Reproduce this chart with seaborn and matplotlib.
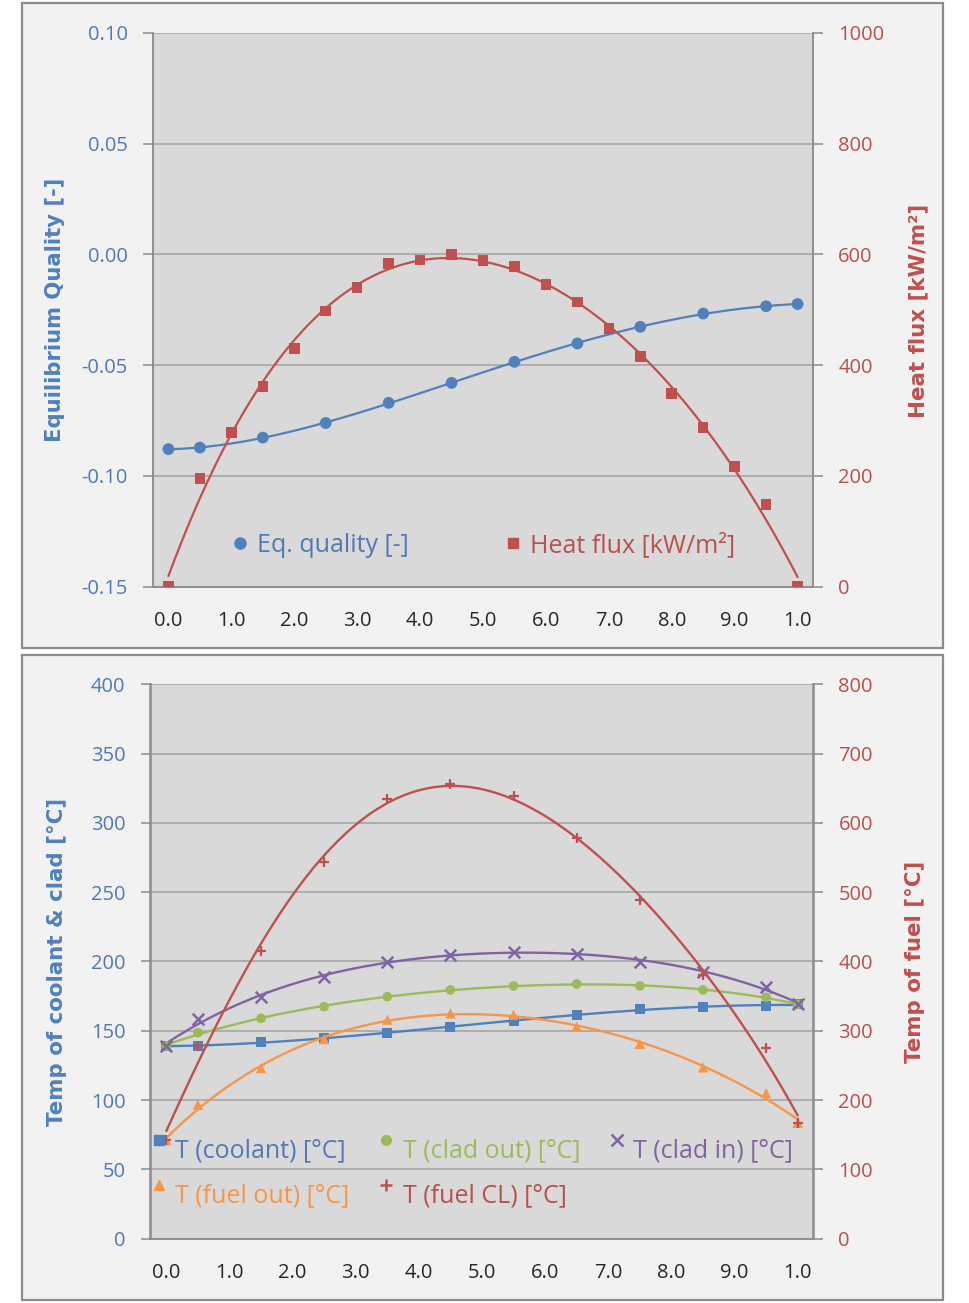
import numpy as np
import pandas as pd
import seaborn as sns
import matplotlib
matplotlib.use("Agg")
import matplotlib.pyplot as plt
from matplotlib.lines import Line2D
from matplotlib.patches import Rectangle
from matplotlib.legend_handler import HandlerLine2D

# ---------------- data ----------------
x_nodes = [0.0, 0.5, 1.5, 2.5, 3.5, 4.5, 5.5, 6.5, 7.5, 8.5, 9.5, 10.0]
eq_quality = [-0.0879, -0.0872, -0.0827, -0.0761, -0.0670, -0.0580,
              -0.0485, -0.0402, -0.0327, -0.0267, -0.0234, -0.0224]
x_flux = [0.0, 0.5, 1.0, 1.5, 2.0, 2.5, 3.0, 3.5, 4.0, 4.5, 5.0,
          5.5, 6.0, 6.5, 7.0, 7.5, 8.0, 8.5, 9.0, 9.5, 10.0]
heat_flux = [0, 195, 278, 361, 430, 498, 540, 584, 590, 600, 589,
             578, 546, 514, 466, 416, 349, 287, 217, 148, 0]
t_coolant = [139, 139, 141.6, 144.5, 148.6, 152.9, 157.0, 161.3, 165.4, 167.3, 167.8, 169]
t_clad_out = [139, 148.6, 158.9, 167.3, 174.5, 179.4, 182.3, 183.7, 182.3, 179.4, 174.1, 169]
t_clad_in = [139, 158.2, 174.1, 189.0, 199.8, 204.6, 207.0, 205.3, 199.8, 192.6, 181.3, 169]
t_fuel_out = [142, 193, 246, 288, 316, 325, 323, 306, 281, 247, 210, 167]
t_fuel_cl = [142, 278, 415, 544, 634, 656, 638, 578, 488, 380, 275, 167]
x_tick_pos = [0, 1, 2, 3, 4, 5, 6, 7, 8, 9, 10]
x_tick_labels = ["0.0", "1.0", "2.0", "3.0", "4.0", "5.0", "6.0", "7.0", "8.0", "9.0", "1.0"]

BLUE = "#4f81bd"
RED = "#c0504d"
GREEN = "#9bbb59"
PURPLE = "#8064a2"
ORANGE = "#f79646"
BLUE_T = "#5079b5"
RED_T = "#b9504c"

sns.set_style("white")
plt.rcParams["font.family"] = ["Open Sans", "DejaVu Sans"]
plt.rcParams["axes.unicode_minus"] = False

W, H = 969, 1303
fig = plt.figure(figsize=(W / 100, H / 100), dpi=100)
fig.patch.set_facecolor("white")


def px_rect(x0, y0, x1, y1):
    return [x0 / W, 1 - y1 / H, (x1 - x0) / W, (y1 - y0) / H]


for (x0, y0, x1, y1) in [(22, 3, 943, 648), (22, 655, 943, 1300)]:
    fig.add_artist(Rectangle((x0 / W, 1 - y1 / H), (x1 - x0) / W, (y1 - y0) / H,
                             transform=fig.transFigure, facecolor="#f2f2f2",
                             edgecolor="#8c8c8c", lw=1.6, zorder=0))


def style(ax, axr, ylim_l, yt_l, lab_l, ylim_r, yt_r, lab_r):
    ax.set_facecolor("#d9d9d9")
    axr.patch.set_visible(False)
    ax.set_xlim(-0.25, 10.25)
    ax.set_ylim(*ylim_l)
    axr.set_ylim(*ylim_r)
    ax.set_yticks(yt_l)
    ax.set_yticklabels(lab_l)
    axr.set_yticks(yt_r)
    axr.set_yticklabels(lab_r)
    ax.set_xticks(x_tick_pos)
    ax.set_xticklabels(x_tick_labels)
    ax.set_xticks(np.arange(-0.25, 10.3, 0.5), minor=True)
    ax.tick_params(axis="x", which="major", length=0, pad=17.5, labelsize=14.5,
                   labelcolor="#262626")
    ax.tick_params(axis="x", which="minor", length=7, width=1.1, color="#8c8c8c",
                   direction="out")
    ax.tick_params(axis="y", which="major", length=7, width=1.1, color="#8c8c8c",
                   pad=11, labelsize=14.5, labelcolor=BLUE_T, direction="out", left=True)
    axr.tick_params(axis="y", which="major", length=7, width=1.1, color="#8c8c8c",
                    pad=11, labelsize=14.5, labelcolor=RED_T, direction="out", right=True)
    ax.grid(axis="y", color="#a6a6a6", lw=1.2)
    ax.grid(axis="x", visible=False)
    ax.set_axisbelow(True)
    for a in (ax, axr):
        a.spines["top"].set_visible(False)
        for s in ("left", "right", "bottom"):
            a.spines[s].set_color("#8c8c8c")
            a.spines[s].set_linewidth(1.1)
    ax.set_xlabel("")
    ax.set_ylabel("")
    axr.set_ylabel("")


class RaisedHandler(HandlerLine2D):
    """Legend marker drawn raised and left of the text, as in the source."""
    def __init__(self, dy=7.0, dx=0.0, **kw):
        super().__init__(**kw)
        self.dy = dy
        self.dx = dx

    def create_artists(self, legend, orig_handle, xdescent, ydescent, width,
                       height, fontsize, trans):
        arts = super().create_artists(legend, orig_handle, xdescent + self.dx,
                                      ydescent - 2 * self.dy, width, height,
                                      fontsize, trans)
        return arts


# ---------------- top chart ----------------
ax1 = fig.add_axes(px_rect(152.7, 32.9, 813.3, 586.7))
ax1r = ax1.twinx()

df_q = pd.DataFrame({"x": x_nodes, "q": eq_quality})
df_f = pd.DataFrame({"x": x_flux, "f": heat_flux})

sns.regplot(data=df_q, x="x", y="q", order=4, ci=None, scatter=False, ax=ax1,
            line_kws=dict(color=BLUE, lw=1.6, zorder=2))
sns.scatterplot(data=df_q, x="x", y="q", ax=ax1, marker="o", s=72, color=BLUE,
                edgecolor="none", zorder=3, legend=False)
sns.regplot(data=df_f, x="x", y="f", order=4, ci=None, scatter=False, ax=ax1r,
            line_kws=dict(color=RED, lw=1.6, zorder=2))
sns.scatterplot(data=df_f, x="x", y="f", ax=ax1r, marker="s", s=58, color=RED,
                edgecolor="none", zorder=3, legend=False)

style(ax1, ax1r, (-0.15, 0.10), [-0.15, -0.10, -0.05, 0.0, 0.05, 0.10],
      ["-0.15", "-0.10", "-0.05", "0.00", "0.05", "0.10"],
      (0, 1000), [0, 200, 400, 600, 800, 1000], ["0", "200", "400", "600", "800", "1000"])

h_q = Line2D([], [], marker="o", ls="none", color=BLUE, markersize=8)
h_f = Line2D([], [], marker="s", ls="none", color=RED, markersize=7)
ax1r.legend([h_q, h_f], ["Eq. quality [-]", "Heat flux [kW/m²]"], ncol=2,
            loc="center left", bbox_to_anchor=(0.1185, 0.0753), frameon=False,
            fontsize=18, handlelength=0.7, handletextpad=0.35, columnspacing=3.8,
            labelcolor=[BLUE_T, RED_T], borderaxespad=0, borderpad=0)

fig.text(55 / W, 1 - 310 / H, "Equilibrium Quality [-]", rotation=90, ha="center",
         va="center", color=BLUE, fontsize=15.2, fontweight="bold", family="DejaVu Sans")
fig.text(918 / W, 1 - 311 / H, "Heat flux [kW/m²]", rotation=90, ha="center",
         va="center", color=RED, fontsize=15.4, fontweight="bold", family="DejaVu Sans")

# ---------------- bottom chart ----------------
ax2 = fig.add_axes(px_rect(150.5, 684.2, 813.5, 1238.6))
ax2r = ax2.twinx()

df_t = pd.DataFrame({"x": x_nodes, "cool": t_coolant, "cout": t_clad_out,
                     "cin": t_clad_in, "fout": t_fuel_out, "fcl": t_fuel_cl})

left_series = [("cool", BLUE, "s", 52, 0, 4), ("cout", GREEN, "o", 48, 0, 4),
               ("cin", PURPLE, "x", 70, 1.8, 4)]
right_series = [("fout", ORANGE, "^", 55, 0, 4), ("fcl", RED, "+", 60, 1.6, 5)]

for axis, series in ((ax2, left_series), (ax2r, right_series)):
    for col, c, m, s, lw, order in series:
        sns.regplot(data=df_t, x="x", y=col, order=order, ci=None, scatter=False,
                    ax=axis, line_kws=dict(color=c, lw=1.7, zorder=2))
        if lw:
            sns.scatterplot(data=df_t, x="x", y=col, ax=axis, marker=m, s=s, color=c,
                            linewidth=lw, zorder=3, legend=False)
        else:
            sns.scatterplot(data=df_t, x="x", y=col, ax=axis, marker=m, s=s, color=c,
                            edgecolor="none", zorder=3, legend=False)

style(ax2, ax2r, (0, 400), list(range(0, 401, 50)), [str(v) for v in range(0, 401, 50)],
      (0, 800), list(range(0, 801, 100)), [str(v) for v in range(0, 801, 100)])

handles = [Line2D([], [], marker="s", ls="none", color=BLUE, markersize=7),
           Line2D([], [], marker="^", ls="none", color=ORANGE, markersize=7),
           Line2D([], [], marker="o", ls="none", color=GREEN, markersize=7),
           Line2D([], [], marker="+", ls="none", color=RED, markersize=8, mew=1.8),
           Line2D([], [], marker="x", ls="none", color=PURPLE, markersize=8, mew=1.8)]
labels = ["T (coolant) [°C]", "T (fuel out) [°C]", "T (clad out) [°C]",
          "T (fuel CL) [°C]", "T (clad in) [°C]"]
hmap = {h: RaisedHandler(dy=6.0, dx=1.0) for h in handles}
ax2r.legend(handles, labels, ncol=3, loc="center left", bbox_to_anchor=(0.002, 0.118),
            frameon=False, fontsize=18, handlelength=0.65, handletextpad=0.28,
            columnspacing=1.2, labelspacing=0.8, handler_map=hmap,
            labelcolor=[BLUE_T, ORANGE, GREEN, RED_T, PURPLE],
            borderaxespad=0, borderpad=0)

fig.text(57 / W, 1 - 962 / H, "Temp of coolant & clad [°C]", rotation=90, ha="center",
         va="center", color=BLUE, fontsize=15.4, fontweight="bold", family="DejaVu Sans")
fig.text(915 / W, 1 - 962 / H, "Temp of fuel [°C]", rotation=90, ha="center",
         va="center", color=RED, fontsize=15.4, fontweight="bold", family="DejaVu Sans")

fig.savefig("out.png", dpi=100, facecolor=fig.get_facecolor())
